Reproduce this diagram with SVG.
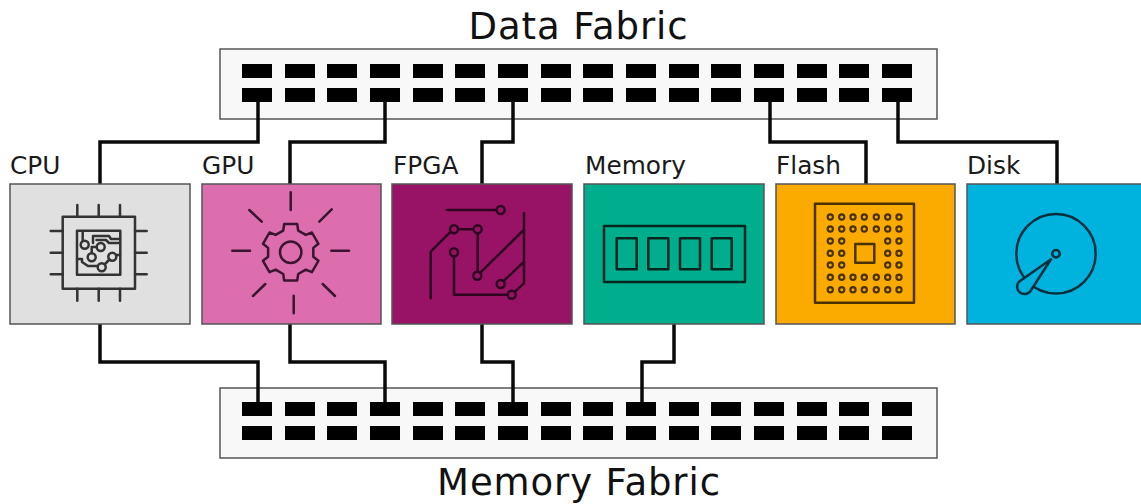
<svg xmlns="http://www.w3.org/2000/svg" width="1141" height="504" viewBox="0 0 1141 504">
<style>
.title{font-family:"DejaVu Sans",sans-serif;font-size:37px;letter-spacing:0.9px;fill:#111}
.label{font-family:"DejaVu Sans",sans-serif;font-size:24.8px;fill:#1a1a1a}
.fabric{fill:#f8f8f8;stroke:#555;stroke-width:1.5}
.node{stroke:#555;stroke-width:1.5}
.ic{fill:none;stroke-width:2.5;stroke-linejoin:round;stroke-linecap:round}
.wire{fill:none;stroke:#0a0a0a;stroke-width:3.5}
.port{fill:#000}
</style>
<defs>
<g id="portrow">
<rect class="port" x="242" width="30" height="14"/><rect class="port" x="285" width="30" height="14"/><rect class="port" x="327" width="30" height="14"/><rect class="port" x="370" width="30" height="14"/><rect class="port" x="413" width="30" height="14"/><rect class="port" x="455" width="30" height="14"/><rect class="port" x="498" width="30" height="14"/><rect class="port" x="541" width="30" height="14"/><rect class="port" x="583" width="30" height="14"/><rect class="port" x="626" width="30" height="14"/><rect class="port" x="669" width="30" height="14"/><rect class="port" x="711" width="30" height="14"/><rect class="port" x="754" width="30" height="14"/><rect class="port" x="797" width="30" height="14"/><rect class="port" x="839" width="30" height="14"/><rect class="port" x="882" width="30" height="14"/>
</g>
<circle id="dot" r="2.6" fill="none" stroke="#4a3200" stroke-width="2.2"/>
</defs>

<g id="data-fabric">
<text class="title" x="578.5" y="39" text-anchor="middle">Data Fabric</text>
<rect class="fabric" x="220" y="49" width="717" height="70"/>
<use href="#portrow" y="64"/><use href="#portrow" y="88"/>
</g>
<g id="memory-fabric">
<rect class="fabric" x="220" y="388" width="717" height="70"/>
<use href="#portrow" y="402"/><use href="#portrow" y="426"/>
<text class="title" x="579" y="495" text-anchor="middle">Memory Fabric</text>
</g>

<g id="connectors">
<path class="wire" d="M258,101V142H100V184"/>
<path class="wire" d="M385,101V142H290V184"/>
<path class="wire" d="M513,101V142H482V184"/>
<path class="wire" d="M770,101V142H866V184"/>
<path class="wire" d="M898,101V142H1057V184"/>
<path class="wire" d="M100,324V362H258V402"/>
<path class="wire" d="M290,324V362H385V402"/>
<path class="wire" d="M482,324V362H513V402"/>
<path class="wire" d="M674,324V362H642V402"/>
</g>

<g id="cpu">
<text class="label" x="10" y="174">CPU</text>
<rect class="node" x="10" y="184" width="180" height="140" fill="#e0e0e0"/>
<g class="ic" stroke="#333">
<rect x="62.7" y="216.7" width="72.3" height="72"/>
<rect x="77" y="230.7" width="43.3" height="44"/>
<path d="M77.3,205V216.7M98.7,205V216.7M120,205V216.7M77.3,288.7V300.7M98.7,288.7V300.7M120,288.7V300.7M50.7,231H62.7M50.7,252.7H62.7M50.7,274.3H62.7M135,231H146.7M135,252.7H146.7M135,274.3H146.7"/>
<circle cx="84.7" cy="244.7" r="4"/><circle cx="100.7" cy="247" r="4"/><circle cx="91.7" cy="257.3" r="4"/><circle cx="112.3" cy="256.7" r="4"/><circle cx="101.7" cy="267.3" r="4"/>
<path d="M82.7,231V240.5M93,243V236H109L111,239H120M96.5,240H106L109,243H120M96.5,247H91.7V253M77,259H82V262L88,266H97.5M105,264L109.5,259.5M116.5,255H120"/>
</g>
</g>

<g id="gpu">
<text class="label" x="202" y="174">GPU</text>
<rect class="node" x="202" y="184" width="179" height="140" fill="#dc6eae"/>
<g class="ic" stroke="#3a1530">
<path d="M290.7,192.3V210M293.7,295.7V313.3M232.3,250.7H250M331.3,250.7H349M249.3,210L261.7,221.7M331.7,209.3L319.3,221.7M253,296L265.3,284M335,296L322.7,284"/>
<circle cx="290.7" cy="252.3" r="10.7"/>
<path transform="translate(290.7,252.3)" d="M-7.5,-21.7L-6.5,-28.3H6.5L7.5,-21.7L15.1,-17.4L21.2,-19.8L27.7,-8.5L22.6,-4.4V4.4L27.7,8.5L21.2,19.8L15.1,17.4L7.5,21.7L6.5,28.3H-6.5L-7.5,21.7L-15.1,17.4L-21.2,19.8L-27.7,8.5L-22.6,4.4V-4.4L-27.7,-8.5L-21.2,-19.8L-15.1,-17.4Z"/>
</g>
</g>

<g id="fpga">
<text class="label" x="393" y="174">FPGA</text>
<rect class="node" x="392" y="184" width="180" height="140" fill="#981265"/>
<g class="ic" stroke="#2e0520">
<path d="M446.7,210H496.7M430.7,298.3V251.7L450.7,231.7M458,229.3H473.7M477.7,233.3V271.7M480.3,272.7L523.7,230M524,213.3V283.3L515,291.7M504,280.7L524,261.7M454,256.3V294.7H507.7"/>
<circle cx="500.7" cy="210" r="4"/><circle cx="454" cy="229.3" r="4"/><circle cx="477.7" cy="229.3" r="4"/><circle cx="454" cy="252.3" r="4"/><circle cx="477.3" cy="275.7" r="4"/><circle cx="500.7" cy="284" r="4"/><circle cx="511.7" cy="294.7" r="4"/>
</g>
</g>

<g id="memory">
<text class="label" x="585" y="174">Memory</text>
<rect class="node" x="584" y="184" width="180" height="140" fill="#00ae8e"/>
<g class="ic" stroke="#04261f">
<rect x="604" y="226" width="141" height="56"/>
<rect x="616.7" y="238.3" width="20" height="31"/><rect x="648.3" y="238.3" width="20" height="31"/><rect x="680" y="238.3" width="20" height="31"/><rect x="711.7" y="238.3" width="20" height="31"/>
</g>
</g>

<g id="flash">
<text class="label" x="776" y="174">Flash</text>
<rect class="node" x="776" y="184" width="179" height="140" fill="#fbab00"/>
<g class="ic" stroke="#4a3200">
<rect x="815" y="203.7" width="99" height="99"/>
<rect x="855.3" y="244" width="19" height="18.7"/>
</g>
<use href="#dot" x="830.3" y="217"/><use href="#dot" x="841.7" y="217"/><use href="#dot" x="853" y="217"/><use href="#dot" x="864.3" y="217"/><use href="#dot" x="876.3" y="217"/><use href="#dot" x="887.7" y="217"/><use href="#dot" x="899" y="217"/>
<use href="#dot" x="830.3" y="229"/><use href="#dot" x="841.7" y="229"/><use href="#dot" x="853" y="229"/><use href="#dot" x="864.3" y="229"/><use href="#dot" x="876.3" y="229"/><use href="#dot" x="887.7" y="229"/><use href="#dot" x="899" y="229"/>
<use href="#dot" x="830.3" y="241"/><use href="#dot" x="841.7" y="241"/><use href="#dot" x="887.7" y="241"/><use href="#dot" x="899" y="241"/>
<use href="#dot" x="830.3" y="253.3"/><use href="#dot" x="841.7" y="253.3"/><use href="#dot" x="887.7" y="253.3"/><use href="#dot" x="899" y="253.3"/>
<use href="#dot" x="830.3" y="265"/><use href="#dot" x="841.7" y="265"/><use href="#dot" x="887.7" y="265"/><use href="#dot" x="899" y="265"/>
<use href="#dot" x="830.3" y="277.3"/><use href="#dot" x="841.7" y="277.3"/><use href="#dot" x="853" y="277.3"/><use href="#dot" x="864.3" y="277.3"/><use href="#dot" x="876.3" y="277.3"/><use href="#dot" x="887.7" y="277.3"/><use href="#dot" x="899" y="277.3"/>
<use href="#dot" x="830.3" y="289.7"/><use href="#dot" x="841.7" y="289.7"/><use href="#dot" x="853" y="289.7"/><use href="#dot" x="864.3" y="289.7"/><use href="#dot" x="876.3" y="289.7"/><use href="#dot" x="887.7" y="289.7"/><use href="#dot" x="899" y="289.7"/>
</g>

<g id="disk">
<text class="label" x="967" y="174">Disk</text>
<rect class="node" x="967" y="184" width="176" height="140" fill="#00b3df"/>
<g class="ic" stroke="#04303d">
<circle cx="1056" cy="253.7" r="39.7"/>
<circle cx="1056" cy="253.7" r="3.7"/>
<path style="fill:#00b3df" d="M1051,259.3L1019,281.7A6.5,6.5 0 0 0 1030,291.7Z"/>
</g>
</g>
</svg>
